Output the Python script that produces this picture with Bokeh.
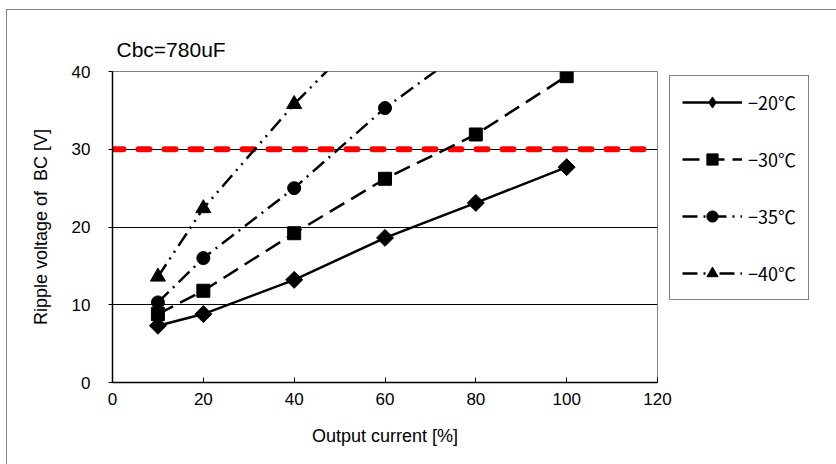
import math
from bokeh.plotting import figure
from bokeh.models import Range1d, FixedTicker, Legend, LegendItem
from bokeh.embed import file_html
from bokeh.resources import INLINE

# ---- data ----
current = [10, 20, 40, 60, 80, 100]
v_m20 = [7.3, 8.8, 13.2, 18.6, 23.1, 27.7]
v_m30 = [8.8, 11.8, 19.2, 26.2, 31.9, 39.4]
current_m35 = [10, 20, 40, 60, 80]
v_m35 = [10.3, 16.0, 25.0, 35.3, 43.8]
current_m40 = [10, 20, 40, 60]
v_m40 = [13.6, 22.4, 35.8, 47.6]
limit_x = [0, 120]
limit_y = [30, 30]
labels = ["\u221220\u2103", "\u221230\u2103", "\u221235\u2103", "\u221240\u2103"]
x_ticks = [0, 20, 40, 60, 80, 100, 120]
y_ticks = [0, 10, 20, 30, 40]

p = figure(frame_width=545, frame_height=311, output_backend="svg", toolbar_location=None,
           x_range=Range1d(0, 120), y_range=Range1d(0, 40),
           min_border_left=112, min_border_right=0, min_border_top=71, min_border_bottom=82)
p.background_fill_color = "white"
p.border_fill_alpha = 0
p.outline_line_color = "#808080"
p.outline_line_width = 1
p.styles = {
    "background": ("linear-gradient(#808080,#808080) 6px 9px / 830px 1px no-repeat, "
                   "linear-gradient(#808080,#808080) 6px 9px / 1px 455px no-repeat, white")
}

p.title.text = "Cbc=780uF"
p.title.align = "left"
p.title.offset = 4
p.title.standoff = 21
p.title.text_font = "Liberation Sans"
p.title.text_font_size = "21px"
p.title.text_font_style = "normal"
p.title.text_color = "black"

p.xgrid.visible = False
p.ygrid.ticker = FixedTicker(ticks=[10, 20, 30])
p.ygrid.grid_line_color = "black"
p.ygrid.grid_line_width = 1

for ax in (p.xaxis[0], p.yaxis[0]):
    ax.axis_line_color = "black"
    ax.axis_line_width = 1.5
    ax.major_tick_line_color = "black"
    ax.minor_tick_line_color = None
    ax.major_label_text_font = "Liberation Sans"
    ax.major_label_text_font_size = "17px"
    ax.major_label_text_color = "black"
    ax.axis_label_text_font = "Liberation Sans"
    ax.axis_label_text_font_size = "18px"
    ax.axis_label_text_font_style = "normal"
    ax.axis_label_text_color = "black"
    ax.axis_label_standoff = 18

p.xaxis.ticker = FixedTicker(ticks=x_ticks)
p.xaxis.major_tick_in = 5
p.xaxis.major_tick_out = 0
p.xaxis.major_label_standoff = 10
p.xaxis.axis_label = "Output current [%]"

p.yaxis.ticker = FixedTicker(ticks=y_ticks)
p.yaxis.major_tick_in = 0
p.yaxis.major_tick_out = 4
p.yaxis.major_label_standoff = 18
p.yaxis.axis_label = "Ripple voltage of\u00a0 BC [V]"

# red limit line
p.line(limit_x, limit_y, line_color="#ff0000", line_width=6, line_dash="11 15",
       line_cap="round")

lw = 2.5
r1l = p.line(current, v_m20, line_color="black", line_width=lw)
r1m = p.scatter(current, v_m20, marker="square", angle=math.pi / 4, size=12,
                fill_color="black", line_color="black")
# legend-only diamond marker (placed outside the visible range)
r1leg = p.scatter([-50], [-50], marker="diamond", size=14, fill_color="black",
                  line_color="black")
r2l = p.line(current, v_m30, line_color="black", line_width=lw, line_dash="17 8")
r2m = p.scatter(current, v_m30, marker="square", size=13, fill_color="black", line_color="black")
r3l = p.line(current_m35, v_m35, line_color="black", line_width=lw, line_dash="15 6 2 6")
r3m = p.scatter(current_m35[:4], v_m35[:4], marker="circle", size=13, fill_color="black",
                line_color="black")
r4l = p.line(current_m40, v_m40, line_color="black", line_width=lw, line_dash="15 6 2 6 2 6")
r4m = p.scatter(current_m40[:3], v_m40[:3], marker="triangle", size=15, fill_color="black",
                line_color="black")

legend = Legend(items=[
    LegendItem(label=labels[0], renderers=[r1l, r1leg]),
    LegendItem(label=labels[1], renderers=[r2l, r2m]),
    LegendItem(label=labels[2], renderers=[r3l, r3m]),
    LegendItem(label=labels[3], renderers=[r4l, r4m]),
], location=(12, 82))
legend.border_line_color = "black"
legend.border_line_width = 1
legend.background_fill_color = "white"
legend.background_fill_alpha = 1
legend.label_text_font = "Noto Sans CJK JP"
legend.label_text_font_size = "18px"
legend.label_text_color = "black"
legend.glyph_width = 60
legend.glyph_height = 28
legend.label_height = 28
legend.label_standoff = 6
legend.spacing = 29
legend.padding = 12
legend.margin = 12
p.add_layout(legend, "right")

open("out.html", "w").write(file_html(p, INLINE))
